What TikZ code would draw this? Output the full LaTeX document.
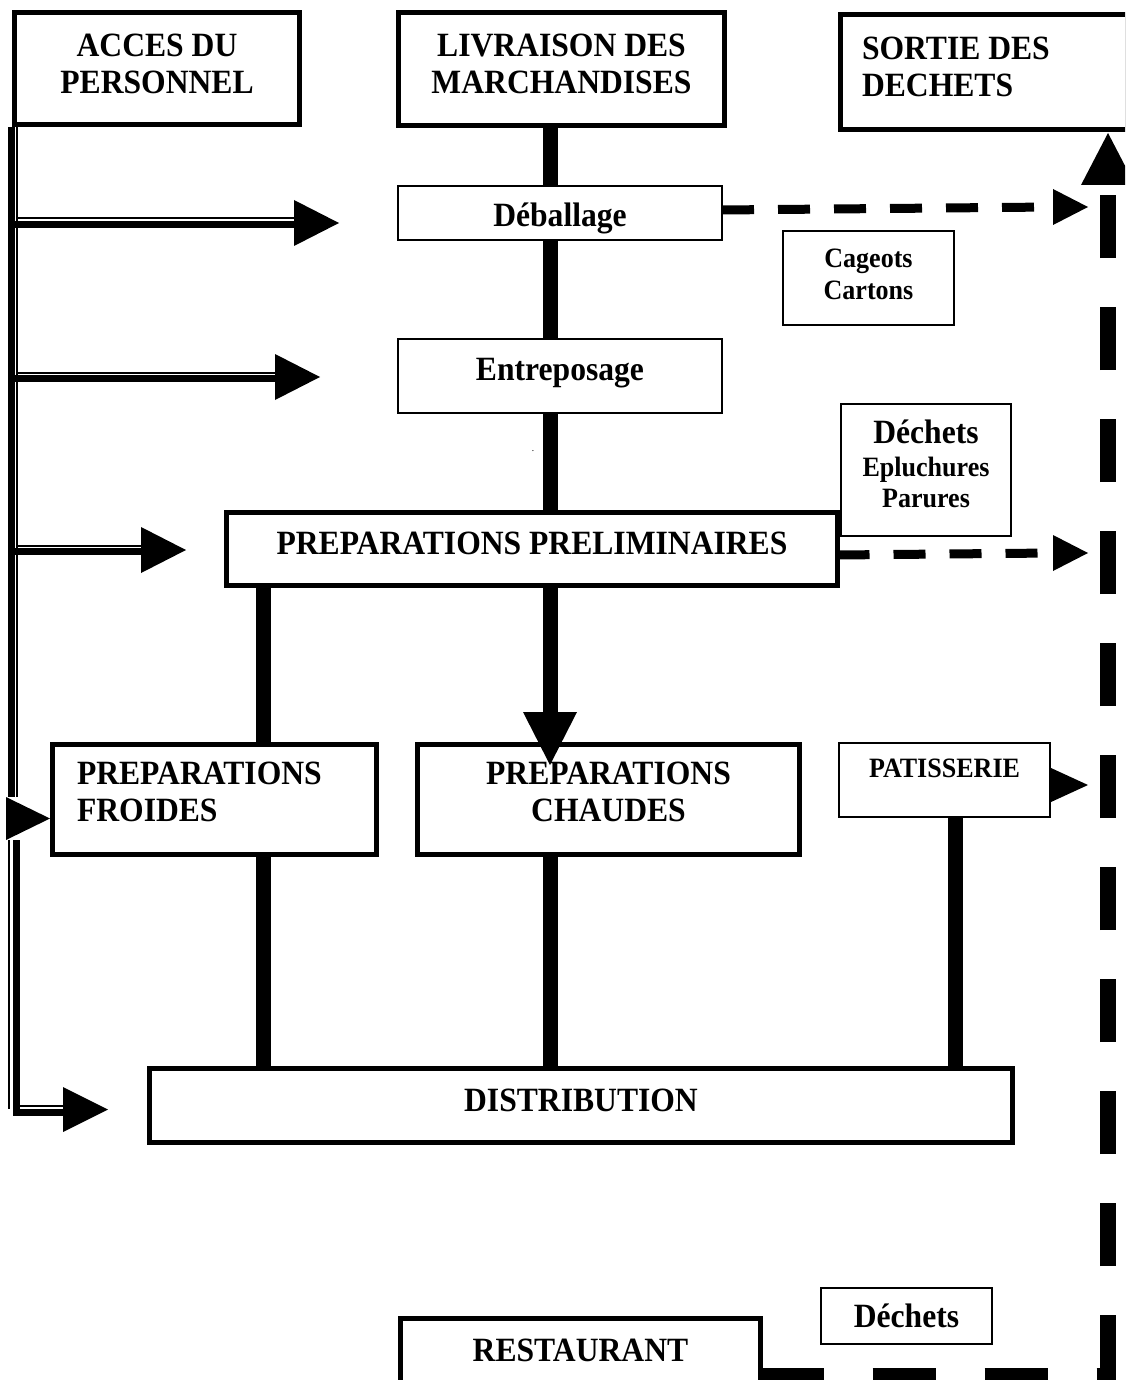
\documentclass[tikz,border=0pt]{standalone}
\usepackage{fontspec}
\setmainfont{Liberation Serif}[FakeStretch=0.93]
\usetikzlibrary{calc}

\begin{document}
\begin{tikzpicture}[x=1pt,y=-1pt,
  bigfont/.style={font=\bfseries\fontsize{34}{37}\selectfont},
  smallfont/.style={font=\bfseries\fontsize{28}{32}\selectfont},
  thickbox/.style={draw, line width=5pt, fill=white, inner sep=0pt, outer sep=0pt, anchor=north, align=center, bigfont},
  thinbox/.style={draw, line width=2pt, fill=white, inner sep=0pt, outer sep=0pt, anchor=north, align=center, bigfont},
  flow/.style={line width=15pt},
  waste/.style={line width=9pt, dash pattern=on 32pt off 24pt},
  bigwaste/.style={line width=16pt, dash pattern=on 63pt off 49pt},
  thickrail/.style={line width=7pt},
  thinrail/.style={line width=2pt},
]
\useasboundingbox (0,0) rectangle (1125,1380);
\clip (0,0) rectangle (1125,1380);

% ---------- boxes ----------
\node[thickbox, minimum width=285pt, text height=80.75pt, text depth=31.25pt] (acces) at (157,12.5) {ACCES DU\\PERSONNEL};
\node[thickbox, minimum width=326pt, text height=80.75pt, text depth=32.25pt] (livr) at (561.5,12.5) {LIVRAISON DES\\MARCHANDISES};
\node[thickbox, minimum width=287pt, text height=81.75pt, text depth=33.25pt, align=left] (sortie) at (984,14.5) {\makebox[244pt][l]{SORTIE DES}\\DECHETS};
\node[thinbox, minimum width=324pt, text height=40.25pt, text depth=13.75pt] (deball) at (560,186) {Déballage};
\node[thinbox, minimum width=324pt, text height=41.25pt, text depth=32.75pt] (entrep) at (560,339) {Entreposage};
\node[thinbox, smallfont, minimum width=171pt, text height=68.3pt, text depth=25.7pt] (cageots) at (868.5,231) {Cageots\\Cartons};
\node[thickbox, minimum width=611pt, text height=41.75pt, text depth=31.25pt] (pp) at (532,512.5) {PREPARATIONS PRELIMINAIRES};
\node[thinbox, minimum width=170pt, text height=103.3pt, text depth=28.7pt] (dech1) at (926,404)
  {Déchets\\[-4pt]\fontsize{28}{31}\selectfont Epluchures\\[-6pt]\fontsize{28}{31}\selectfont Parures};
\node[thickbox, minimum width=324pt, text height=76.75pt, text depth=33.25pt, align=left] (froides) at (214.5,744.5) {\makebox[275pt][l]{PREPARATIONS}\\FROIDES};
\node[thickbox, minimum width=382pt, text height=76.75pt, text depth=33.25pt] (chaudes) at (608.5,744.5) {PREPARATIONS\\CHAUDES};
\node[thinbox, smallfont, minimum width=211pt, text height=34.3pt, text depth=39.7pt] (pat) at (944.5,743) {PATISSERIE};
\node[thickbox, minimum width=863pt, text height=42.75pt, text depth=31.25pt] (distrib) at (581,1068.5) {DISTRIBUTION};
\node[thickbox, minimum width=360pt, text height=42.75pt, text depth=60pt] (rest) at (580.5,1318.5) {RESTAURANT};
\node[thinbox, minimum width=171pt, text height=39.25pt, text depth=16.75pt] (dech2) at (906.5,1288) {Déchets};
\node[font=\fontsize{10}{10}\selectfont, inner sep=0pt] (dot) at (533,451) {.};

% ---------- main flow ----------
\coordinate (cF) at (263,0);
\coordinate (cC) at (550,0);
\coordinate (cP) at (955,0);
\draw[flow] (livr.south -| cC) -- (deball.north -| cC);
\draw[flow] (deball.south -| cC) -- (entrep.north -| cC);
\draw[flow] (entrep.south -| cC) -- (pp.north -| cC);
\draw[flow] (pp.south -| cF) -- (froides.north -| cF);
\coordinate (chtip) at (550,765);
\draw[flow] (pp.south -| cC) -- ($(chtip)+(0,-50)$);
\fill (chtip) -- ++(-27,-53) -- ++(54,0) -- cycle;
\draw[flow] (froides.south -| cF) -- (distrib.north -| cF);
\draw[flow] (chaudes.south -| cC) -- (distrib.north -| cC);
\draw[flow] (pat.south -| cP) -- (distrib.north -| cP);

% ---------- waste ----------
\coordinate (w1) at (1088,207);
\draw[waste] ($(deball.east)+(0,-3)$) -- ($(w1)+(-35,0)$);
\fill (w1) -- ++(-35,-18) -- ++(0,36) -- cycle;
\coordinate (w2) at (1088,553);
\draw[waste] ($(pp.east)+(0,6)$) -- ($(w2)+(-35,0)$);
\fill (w2) -- ++(-35,-18) -- ++(0,36) -- cycle;
\coordinate (w3) at (1088,785);
\fill (w3) -- ++(-37,-17) -- ++(0,34) -- cycle;
\coordinate (corner) at (1108,1376);
\coordinate (stip) at (1108,133);
\draw[bigwaste] (rest.east |- corner) -- ($(corner)+(8,0)$);
\draw[bigwaste, dash phase=2pt] (corner) -- ($(stip)+(0,52)$);
\fill (stip) -- ++(-27,52) -- ++(54,0) -- cycle;

% ---------- staff access rails ----------
\draw[thickrail] (11.5,127) -- (11.5,797);
\draw[thinrail] (17,127) -- (17,797);
\foreach \tx/\c in {339/223, 320/377, 186/550} {
  \draw[thickrail] (13,\c+1.7) -- (\tx-45,\c+1.7);
  \draw[thinrail] (17,\c-4.5) -- (\tx-45,\c-4.5);
  \fill (\tx,\c) -- ++(-45,-23) -- ++(0,46) -- cycle;
}
\coordinate (fr) at (50,818.5);
\fill (fr) -- ++(-44,-21.5) -- ++(0,43) -- cycle;
\draw[thinrail] (8.5,840) -- (8.5,1109);
\draw[thickrail, line join=miter] (16,840) -- (16,1112.5) -- (63,1112.5);
\draw[thinrail] (19.5,1105.5) -- (63,1105.5);
\fill (108,1109.5) -- ++(-45,-22.5) -- ++(0,45) -- cycle;
\end{tikzpicture}
\end{document}
